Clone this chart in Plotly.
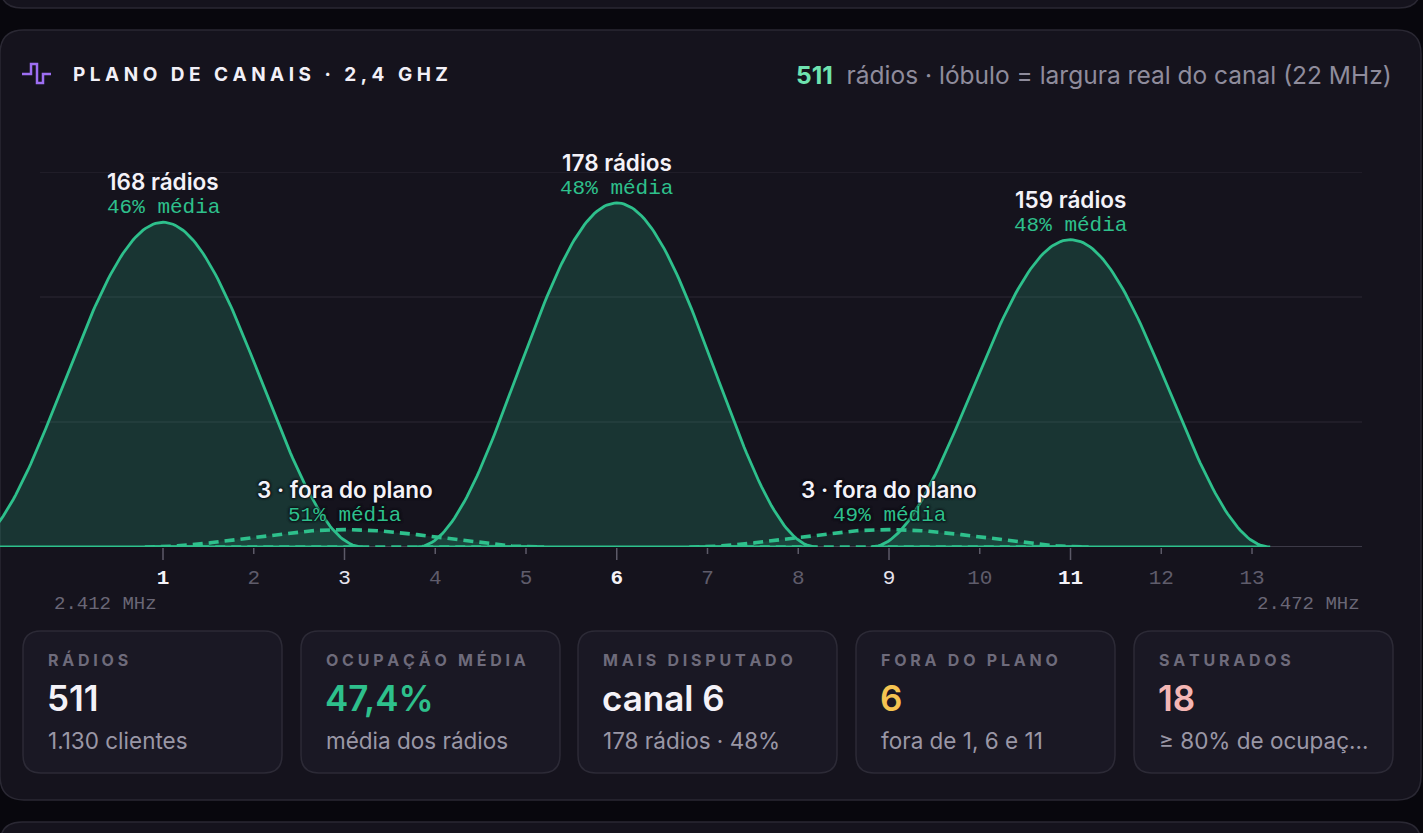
import numpy as np
import plotly.graph_objects as go

# ---------------- data ----------------
channels = list(range(1, 14))
emph_channels = [1, 6, 11]
semi_channels = [3, 9]
main_channels = [1, 6, 11]
main_radios = [168, 178, 159]
main_occupancy = [46, 48, 48]
offplan_channels = [3, 9]
offplan_radios = [3, 3]
offplan_occupancy = [51, 49]
offplan_lobe_height = [9, 9]
lobe_half_width = 2.2  # 22 MHz = 4.4 channel steps
freq_left_label = "2.412 MHz"
freq_right_label = "2.472 MHz"
total_radios = 511

card_labels = ["RÁDIOS", "OCUPAÇÃO MÉDIA", "MAIS DISPUTADO", "FORA DO PLANO", "SATURADOS"]
card_values = ["511", "47,4%", "canal 6", "6", "18"]
card_subs = ["1.130 clientes", "média dos rádios", "178 rádios · 48%", "fora de 1, 6 e 11", "≥ 80% de ocupaç..."]
card_value_colors = ["#f4f2f8", "#2ec08c", "#f4f2f8", "#f5c451", "#f4b6b4"]

# ---------------- style ----------------
W, H = 1423, 833
BG = "#08070d"
CARD = "#15131d"
CARD_LINE = "#2a2833"
SUB_CARD = "#1a1824"
SUB_LINE = "#2c2a36"
GREEN = "#2ec08c"
GRID = "#24222d"
SANS = "Inter, Roboto, sans-serif"
MONO = "'Liberation Mono', 'DejaVu Sans Mono', monospace"

def px(x):
    return x / W

def py(y):
    return 1 - y / H

def rrect(x0, y0, x1, y1, r):
    return (
        f"M{px(x0 + r)},{py(y0)} L{px(x1 - r)},{py(y0)} "
        f"Q{px(x1)},{py(y0)} {px(x1)},{py(y0 + r)} L{px(x1)},{py(y1 - r)} "
        f"Q{px(x1)},{py(y1)} {px(x1 - r)},{py(y1)} L{px(x0 + r)},{py(y1)} "
        f"Q{px(x0)},{py(y1)} {px(x0)},{py(y1 - r)} L{px(x0)},{py(y0 + r)} "
        f"Q{px(x0)},{py(y0)} {px(x0 + r)},{py(y0)} Z"
    )

def spaced(s, sep):
    return sep.join(list(s))

fig = go.Figure()

def lobe(c, h):
    x = np.linspace(c - lobe_half_width, c + lobe_half_width, 161)
    y = h * np.cos(np.pi / 2 * (x - c) / lobe_half_width) ** 2
    xs = np.concatenate([x, [c + lobe_half_width, c - lobe_half_width]])
    ys = np.concatenate([y, [0, 0]])
    return xs, ys

for c, n in zip(main_channels, main_radios):
    xs, ys = lobe(c, n)
    fig.add_trace(go.Scatter(x=xs, y=ys, mode="lines", fill="toself",
                             fillcolor="rgba(46,192,140,0.20)",
                             line=dict(color=GREEN, width=2.8),
                             hoverinfo="skip", showlegend=False))

for c, h in zip(offplan_channels, offplan_lobe_height):
    xs, ys = lobe(c, h)
    fig.add_trace(go.Scatter(x=xs, y=ys, mode="lines", fill="toself",
                             fillcolor="rgba(46,192,140,0.12)",
                             line=dict(color=GREEN, width=3.6, dash="10px,6px"),
                             hoverinfo="skip", showlegend=False))

ymax = 194
shapes = []
shapes.append(dict(type="path", path=rrect(0, -60, 1421, 8, 22), xref="paper", yref="paper",
                   fillcolor=CARD, line=dict(color=CARD_LINE, width=1.5), layer="below"))
shapes.append(dict(type="path", path=rrect(0, 30, 1421, 800, 24), xref="paper", yref="paper",
                   fillcolor=CARD, line=dict(color=CARD_LINE, width=1.5), layer="below"))
shapes.append(dict(type="path", path=rrect(0, 822, 1421, 900, 22), xref="paper", yref="paper",
                   fillcolor=CARD, line=dict(color=CARD_LINE, width=1.5), layer="below"))

for f in [1 / 3, 2 / 3, 1.0]:
    shapes.append(dict(type="line", xref="x", yref="y", x0=-0.3554, x1=14.212, y0=ymax * f, y1=ymax * f,
                       line=dict(color=GRID, width=1.5), layer="below"))
shapes.append(dict(type="line", xref="x", yref="y", x0=-0.3554, x1=14.212, y0=0, y1=0,
                   line=dict(color="#4a4856", width=1.5), layer="below"))
for ch in channels:
    ln = 12 if ch in emph_channels + semi_channels else 6
    shapes.append(dict(type="line", xref="x", yref="paper", x0=ch, x1=ch,
                       y0=py(548), y1=py(548 + ln), line=dict(color="#5c5a68", width=1.5)))

shapes.append(dict(type="path", xref="paper", yref="paper",
                   path=f"M{px(22)},{py(74)} L{px(31)},{py(74)} L{px(31)},{py(64)} L{px(37)},{py(64)} "
                        f"L{px(37)},{py(83)} L{px(43)},{py(83)} L{px(43)},{py(74)} L{px(51)},{py(74)}",
                   line=dict(color="#9d6ef2", width=2.5)))

card_x = [23, 301, 578, 856, 1134]
card_w = 259
for i, x0 in enumerate(card_x):
    shapes.append(dict(type="path", path=rrect(x0, 631, x0 + card_w, 773, 18), xref="paper", yref="paper",
                       fillcolor=SUB_CARD, line=dict(color=SUB_LINE, width=1.5), layer="below"))

annotations = []
annotations.append(dict(xref="paper", yref="paper", x=px(71), y=py(74), xanchor="left", yanchor="middle",
                        text="<b>" + spaced("PLANO DE CANAIS · 2,4 GHZ", "\u2009\u200a") + "</b>",
                        showarrow=False, font=dict(family=SANS, size=19, color="#f2f0f7")))
annotations.append(dict(xref="paper", yref="paper", x=px(1394), y=py(75), xanchor="right", yanchor="middle",
                        text=f"<span style='color:#6fe3b0'><b>{total_radios}</b></span>\u00a0\u00a0rádios · lóbulo = largura real do canal (22 MHz)",
                        showarrow=False, font=dict(family=SANS, size=24.5, color="#8f8c9c")))

shadow = "0px 0px 3px #0b0a12, 0px 0px 3px #0b0a12, 0px 0px 2px #0b0a12"
for c, n, occ in zip(main_channels, main_radios, main_occupancy):
    annotations.append(dict(x=c, y=n, xref="x", yref="y", yanchor="bottom", xanchor="center", yshift=25,
                            text=f"{n} rádios", showarrow=False,
                            font=dict(family=SANS, size=22.5, color="#f4f2f8", weight=600)))
    annotations.append(dict(x=c, y=n, xref="x", yref="y", yanchor="bottom", xanchor="center", yshift=1,
                            text=f"{occ}% média", showarrow=False,
                            font=dict(family=MONO, size=21, color=GREEN)))
for c, n, occ, h in zip(offplan_channels, offplan_radios, offplan_occupancy, offplan_lobe_height):
    annotations.append(dict(x=c, y=h, xref="x", yref="y", yanchor="bottom", xanchor="center", yshift=25,
                            text=f"{n} · fora do plano", showarrow=False,
                            font=dict(family=SANS, size=22.5, color="#f4f2f8", weight=600, shadow=shadow)))
    annotations.append(dict(x=c, y=h, xref="x", yref="y", yanchor="bottom", xanchor="center", yshift=1,
                            text=f"{occ}% média", showarrow=False,
                            font=dict(family=MONO, size=21, color=GREEN, shadow=shadow)))

annotations.append(dict(xref="paper", yref="paper", x=px(159), y=py(604), xanchor="right", yanchor="middle",
                        text=freq_left_label, showarrow=False, font=dict(family=MONO, size=19, color="#6a6776")))
annotations.append(dict(xref="paper", yref="paper", x=px(1362), y=py(604), xanchor="right", yanchor="middle",
                        text=freq_right_label, showarrow=False, font=dict(family=MONO, size=19, color="#6a6776")))

for i, x0 in enumerate(card_x):
    annotations.append(dict(xref="paper", yref="paper", x=px(x0 + 23), y=py(660), xanchor="left", yanchor="middle",
                            text="<b>" + spaced(card_labels[i], "\u2009\u200a") + "</b>", showarrow=False,
                            font=dict(family=SANS, size=16, color="#6e6b7b")))
    annotations.append(dict(xref="paper", yref="paper", x=px(x0 + 22), y=py(698), xanchor="left", yanchor="middle",
                            text=card_values[i], showarrow=False,
                            font=dict(family=SANS, size=35, color=card_value_colors[i], weight=600)))
    annotations.append(dict(xref="paper", yref="paper", x=px(x0 + 23), y=py(740), xanchor="left", yanchor="middle",
                            text=card_subs[i], showarrow=False,
                            font=dict(family=SANS, size=22.5, color="#9a97a6")))

def tick_text(ch):
    if ch in emph_channels:
        return f"<span style='color:#f4f2f8'><b>{ch}</b></span>"
    if ch in semi_channels:
        return f"<span style='color:#e6e4ee'>{ch}</span>"
    return f"<span style='color:#5f5c6b'>{ch}</span>"

fig.update_layout(
    width=W, height=H,
    margin=dict(l=0, r=0, t=0, b=0),
    paper_bgcolor=BG, plot_bgcolor="rgba(0,0,0,0)",
    showlegend=False,
    shapes=shapes, annotations=annotations,
    xaxis=dict(domain=[0, 1362 / W], range=[-0.7961, 14.212], showgrid=False, zeroline=False,
               showline=False, tickmode="array", tickvals=channels, ticktext=[tick_text(c) for c in channels],
               ticks="", ticklabelstandoff=15, tickfont=dict(family=MONO, size=21, color="#5f5c6b"),
               fixedrange=True),
    yaxis=dict(domain=[1 - 547 / H, 1 - 172 / H], range=[0, ymax], showgrid=False, zeroline=False,
               showticklabels=False, showline=False, fixedrange=True),
)

fig.write_html("out.html", config={"displayModeBar": False},
               post_script="document.body.style.margin='0';document.body.style.background='#08070d';")
